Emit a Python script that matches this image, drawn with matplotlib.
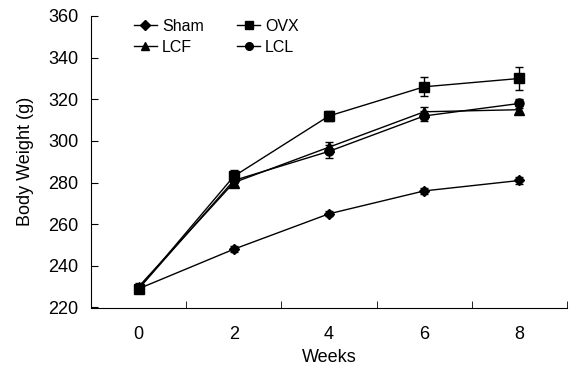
import matplotlib
matplotlib.use("Agg")
import matplotlib.pyplot as plt
from matplotlib.lines import Line2D
import numpy as np

plt.rcParams['font.family'] = ['Liberation Sans', 'DejaVu Sans']

weeks = [0, 2, 4, 6, 8]
sham = [229, 248, 265, 276, 281]
ovx = [229, 283, 312, 326, 330]
lcf = [230, 280, 297, 314, 315]
lcl = [229, 281, 295, 312, 318]
sham_err = [1.5, 1.5, 1.2, 1.5, 1.5]
ovx_err = [2, 3, 2.5, 4.5, 5.5]
lcf_err = [2, 2, 2.5, 2.5, 2]
lcl_err = [2, 2.5, 3, 2.5, 2]

FS = 13
LFS = 11.5
fig = plt.figure(figsize=(5.69, 3.65), dpi=100)
ax = fig.add_axes([91/569, 1-307.5/365, (567-91)/569, (307.5-16)/365])

series = [("Sham", sham, sham_err, "D", 5.5),
          ("OVX", ovx, ovx_err, "s", 6.5),
          ("LCF", lcf, lcf_err, "^", 6.5),
          ("LCL", lcl, lcl_err, "o", 6.5)]
handles = {}
for name, vals, err, mk, ms in series:
    ax.errorbar(weeks, vals, yerr=err, color='black', marker=mk, markersize=ms,
                linewidth=1, elinewidth=1, capsize=3, capthick=1)
    handles[name] = Line2D([], [], color='black', marker=mk, markersize=ms * 0.85, linewidth=1)

ax.set_xlim(-1, 9)
ax.set_ylim(220, 360)
ax.set_yticks(np.arange(220, 361, 20))
ax.set_xticks(weeks)
ax.set_xticks([1, 3, 5, 7, 9], minor=True)
ax.tick_params(axis='x', which='major', length=0, labelsize=FS, pad=13)
ax.tick_params(axis='x', which='minor', direction='in', length=5)
ax.tick_params(axis='y', direction='in', length=5, labelsize=FS, pad=9)
for s in ['top', 'right']:
    ax.spines[s].set_visible(False)
ax.set_xlabel('Weeks', fontsize=FS, labelpad=5)
ax.set_ylabel('Body Weight (g)', fontsize=FS, labelpad=10)

order = ['Sham', 'LCF', 'OVX', 'LCL']
leg = ax.legend([handles[k] for k in order], order, ncol=2, frameon=False,
                loc='upper left', bbox_to_anchor=(0.09, 0.99), fontsize=LFS,
                handlelength=1.45, handletextpad=0.3, columnspacing=2.1,
                labelspacing=0.35, borderaxespad=0, borderpad=0)

fig.savefig('out.png', dpi=100)
